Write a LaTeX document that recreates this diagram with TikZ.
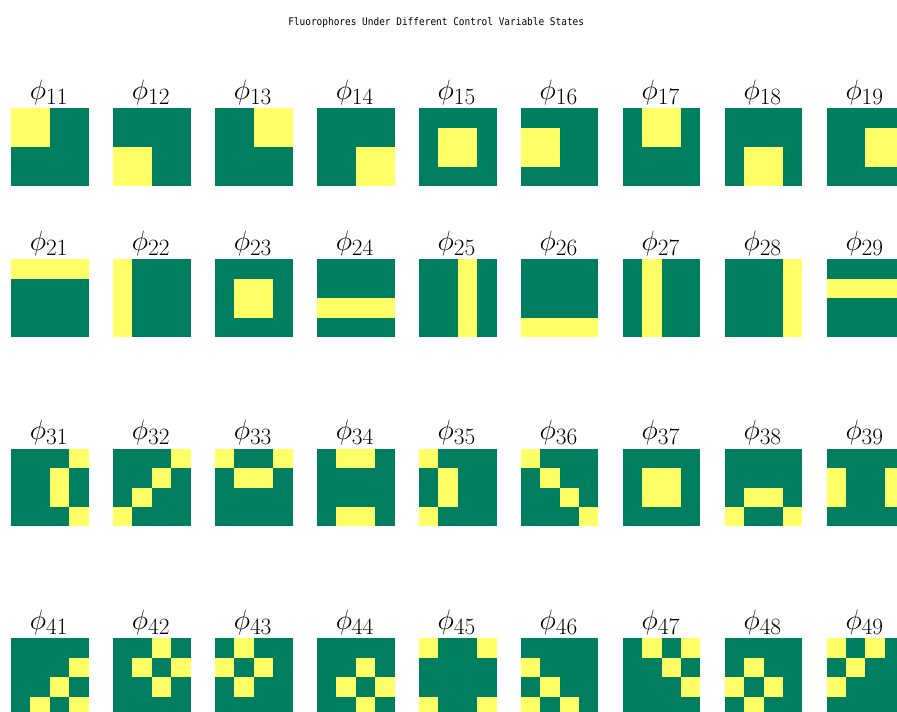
\documentclass[tikz,border=0pt]{standalone}
\usepackage{fontspec}
\newfontfamily\titlefont{DejaVu Sans Mono}
\definecolor{fgreen}{RGB}{0,127,96}
\definecolor{fyellow}{RGB}{255,255,102}
\begin{document}
\begin{tikzpicture}[x=1pt,y=-1pt,
  sq/.style={fill=fgreen},
  cellfill/.style={fill=fyellow},
  lab/.style={anchor=base, inner sep=0pt, font=\Huge},
  ttl/.style={anchor=base, inner sep=0pt, font=\titlefont\fontsize{10.5}{12}\selectfont, xscale=0.9}]
\useasboundingbox (0,0) rectangle (897,712);
\fill[white] (0,0) rectangle (897,712);
\clip (0,0) rectangle (897,712);
\node[ttl] (title) at (436.2,25.7) {Fluorophores Under Different Control Variable States};
\foreach \ri/\ci/\cells in {
  1/1/{0/0,0/1,1/0,1/1},
  1/2/{2/0,2/1,3/0,3/1},
  1/3/{0/2,0/3,1/2,1/3},
  1/4/{2/2,2/3,3/2,3/3},
  1/5/{1/1,1/2,2/1,2/2},
  1/6/{1/0,1/1,2/0,2/1},
  1/7/{0/1,0/2,1/1,1/2},
  1/8/{2/1,2/2,3/1,3/2},
  1/9/{1/2,1/3,2/2,2/3},
  2/1/{0/0,0/1,0/2,0/3},
  2/2/{0/0,1/0,2/0,3/0},
  2/3/{1/1,1/2,2/1,2/2},
  2/4/{2/0,2/1,2/2,2/3},
  2/5/{0/2,1/2,2/2,3/2},
  2/6/{3/0,3/1,3/2,3/3},
  2/7/{0/1,1/1,2/1,3/1},
  2/8/{0/3,1/3,2/3,3/3},
  2/9/{1/0,1/1,1/2,1/3},
  3/1/{0/3,1/2,2/2,3/3},
  3/2/{0/3,1/2,2/1,3/0},
  3/3/{0/0,0/3,1/1,1/2},
  3/4/{0/1,0/2,3/1,3/2},
  3/5/{0/0,1/1,2/1,3/0},
  3/6/{0/0,1/1,2/2,3/3},
  3/7/{1/1,1/2,2/1,2/2},
  3/8/{2/1,2/2,3/0,3/3},
  3/9/{1/0,2/0,1/3,2/3},
  4/1/{1/3,2/2,3/1,3/3},
  4/2/{0/2,1/1,1/3,2/2},
  4/3/{0/1,1/0,1/2,2/1},
  4/4/{1/2,2/1,2/3,3/2},
  4/5/{0/0,0/3,3/0,3/3},
  4/6/{1/0,2/1,3/0,3/2},
  4/7/{0/1,0/3,1/2,2/3},
  4/8/{1/1,2/0,2/2,3/1},
  4/9/{0/0,0/2,1/1,2/0}} {
  \pgfmathsetmacro\xx{11+101.95*(\ci-1)}
  \pgfmathsetmacro\yy{{108.3,259.3,448.7,638.3}[\ri-1]}
  \fill[sq] (\xx,\yy) rectangle ++(77.7,77.7);
  \foreach \a/\b in \cells {
    \fill[cellfill] ({\xx+\b*19.425},{\yy+\a*19.425}) rectangle ++(19.425,19.425);
  }
  \node[lab] (p\ri\ci) at ({\xx+38},{\yy-9.3}) {\scalebox{1.125}{$\phi_{\ri\ci}$}};
}
\end{tikzpicture}
\end{document}
